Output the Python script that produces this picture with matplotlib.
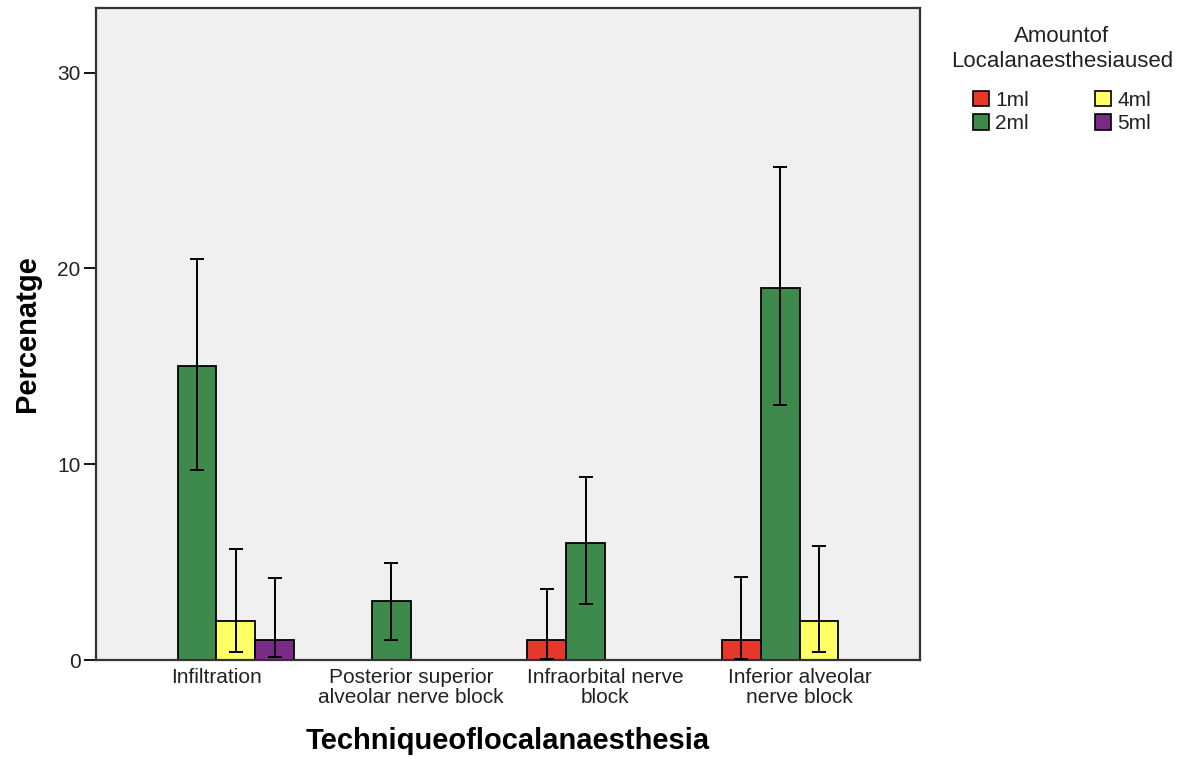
import numpy as np
import matplotlib.pyplot as plt
from matplotlib.patches import Patch

plt.rcParams['font.family'] = ['Liberation Sans', 'DejaVu Sans']

techniques = ['Infiltration', 'Posterior superior\nalveolar nerve block',
              'Infraorbital nerve\nblock', 'Inferior alveolar\nnerve block']
amounts = ['1ml', '2ml', '4ml', '5ml']
colors = ['#e5372a', '#3e8a4d', '#ffff66', '#7b2b85']

# percentages per amount (None = no bar), rows follow amounts
pct = [
    [None, None, 1, 1],   # 1ml
    [15, 3, 6, 19],       # 2ml
    [2, None, None, 2],   # 4ml
    [1, None, None, None],  # 5ml
]
# confidence interval lower / upper
ci_low = [
    [None, None, 0.05, 0.05],
    [9.7, 1.0, 2.85, 13.0],
    [0.4, None, None, 0.4],
    [0.15, None, None, None],
]
ci_high = [
    [None, None, 3.65, 4.25],
    [20.5, 4.95, 9.35, 25.2],
    [5.65, None, None, 5.8],
    [4.2, None, None, None],
]

fig = plt.figure(figsize=(11.89, 7.59), dpi=100)
ax = fig.add_axes([96/1189, 1-660/759, (920-96)/1189, (660-8)/759])
ax.set_facecolor('#f0f0f0')

x = np.arange(len(techniques))
w = 0.2
for i, amt in enumerate(amounts):
    off = (i - 1.5) * w
    for j in range(len(techniques)):
        v = pct[i][j]
        if v is None:
            continue
        ax.bar(x[j] + off, v, width=w, color=colors[i], edgecolor='black',
               linewidth=1.3, zorder=2)
        lo, hi = ci_low[i][j], ci_high[i][j]
        ax.errorbar(x[j] + off, v, yerr=[[v - lo], [hi - v]], fmt='none',
                    ecolor='black', elinewidth=1.4, capsize=5, capthick=1.4,
                    zorder=3)

ax.set_xlim(-0.62, 3.62)
ax.set_ylim(0, 33.3)
ax.set_yticks([0, 10, 20, 30])
ax.set_xticks(x)
ax.set_xticklabels(techniques, fontsize=15, color='#222222', linespacing=1.05)
ax.tick_params(axis='x', length=0, pad=6)
ax.tick_params(axis='y', length=9, width=1.3, labelsize=15, labelcolor='#222222', pad=2)
for s in ax.spines.values():
    s.set_color('#333333')
    s.set_linewidth(1.6)

ax.set_ylabel('Percenatge', fontsize=21, fontweight='bold', labelpad=12)
ax.set_xlabel('Techniqueoflocalanaesthesia', fontsize=21, fontweight='bold', labelpad=14)

handles = [Patch(facecolor=c, edgecolor='black', linewidth=1.2) for c in colors]
leg = fig.legend(handles, amounts, loc='upper center', bbox_to_anchor=(1062/1189, 0.99),
                 ncol=2, frameon=False, fontsize=15,
                 title='Amountof\nLocalanaesthesiaused', title_fontsize=16,
                 handlelength=0.75, handleheight=0.75, handletextpad=0.3,
                 columnspacing=3.2, labelspacing=0.2)
leg.get_title().set_multialignment('center')
leg.get_title().set_color('#222222')
for t in leg.get_texts():
    t.set_color('#222222')
leg._legend_box.sep = 14

fig.savefig('out.png', dpi=100)
